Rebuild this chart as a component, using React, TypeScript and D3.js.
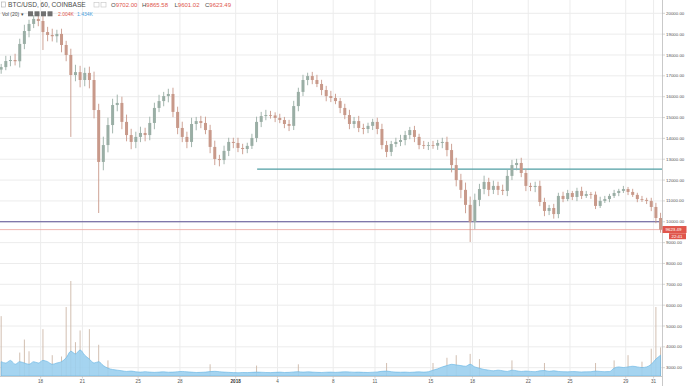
import React from "react";
import * as d3 from "d3";

const WIDTH = 688;
const HEIGHT = 386;
const PLOT_RIGHT = 662;
const PANE_BOTTOM = 376;

// 8 hour candles, the first opens Dec 15 2017 00:00
const firstCandle = new Date(2017, 11, 15, 0, 0);
const candleHours = 8;
const firstOpen = 17300;

const closes = [
  17420, 17710, 17760, 17700, 18530, 19150, 19490, 19730, 19630, 19100,
  18960, 18900, 19010, 18480, 18000, 17040, 17180, 16800, 17140, 16800,
  15360, 12870, 13680, 14640, 15600, 15700, 14790, 14160, 13830, 14070,
  14260, 14160, 14740, 15460, 15790, 16030, 16130, 15270, 14500, 14070,
  13830, 14690, 14830, 14740, 14400, 13590, 13010, 12960, 13400, 13830,
  13780, 13540, 13490, 13640, 14020, 14790, 15070, 15120, 15100, 14980,
  14880, 14690, 14600, 15550, 16230, 16800, 16990, 16800, 16610, 16320,
  16030, 15940, 15790, 15460, 15120, 14690, 14830, 14500, 14450, 14600,
  14790, 14450, 13680, 13350, 13730, 13830, 13920, 14160, 14400, 14070,
  13680, 13640, 13680, 13650, 13780, 13830, 13440, 12720, 12000, 11530,
  10810, 9990, 11050, 11570, 11910, 11530, 11720, 11530, 11480, 12200,
  12720, 12820, 12340, 11720, 11670, 11720, 10950, 10520, 10660, 10370,
  11240, 11090, 11380, 11190, 11480, 11240, 11330, 11300, 10760, 11000,
  11090, 11240, 11380, 11480, 11570, 11430, 11290, 11090, 11050, 11000,
  10710, 10180, 9623.49,
];

// how far the hourly highs / lows reach past each 8h body (USD)
const wickUp = [
  150, 250, 200, 300, 250, 300, 200, 150, 250, 300,
  250, 300, 200, 250, 200, 300, 350, 300, 250, 300,
  400, 300, 400, 350, 300, 400, 300, 350, 300, 250,
  300, 250, 300, 250, 300, 200, 250, 300, 250, 300,
  250, 300, 200, 250, 300, 250, 300, 200, 250, 200,
  200, 250, 200, 150, 200, 250, 200, 250, 200, 150,
  200, 150, 200, 250, 200, 250, 150, 200, 250, 200,
  200, 250, 200, 150, 200, 250, 200, 250, 200, 150,
  150, 200, 250, 200, 150, 200, 250, 200, 150, 200,
  150, 200, 150, 200, 150, 200, 250, 300, 350, 300,
  350, 400, 300, 250, 300, 200, 250, 200, 250, 300,
  250, 200, 250, 200, 150, 200, 250, 200, 150, 200,
  150, 200, 150, 100, 150, 200, 150, 100, 150, 200,
  150, 100, 150, 100, 150, 100, 150, 100, 150, 100,
  150, 200, 250,
];
const wickDown = [
  200, 150, 250, 200, 300, 250, 300, 200, 250, 300,
  300, 250, 300, 350, 300, 400, 300, 350, 300, 400,
  400, 300, 400, 350, 400, 300, 350, 300, 350, 300,
  250, 300, 250, 300, 200, 250, 300, 250, 300, 250,
  300, 250, 300, 250, 200, 300, 250, 300, 200, 250,
  250, 200, 250, 200, 150, 200, 250, 200, 150, 200,
  150, 200, 250, 200, 250, 200, 250, 200, 150, 250,
  250, 200, 150, 250, 200, 250, 200, 200, 250, 200,
  200, 250, 200, 250, 200, 150, 200, 250, 200, 250,
  200, 150, 200, 150, 200, 250, 300, 350, 300, 400,
  400, 300, 350, 300, 250, 300, 200, 250, 200, 250,
  200, 250, 200, 250, 200, 250, 200, 250, 200, 150,
  200, 150, 100, 150, 200, 150, 100, 200, 150, 100,
  100, 150, 100, 150, 100, 150, 100, 150, 100, 150,
  200, 250, 150,
];

// long wicks that stick out further [candle index, price]
const wickHighs: [number, number][] = [
  [7, 19920], [24, 15850], [66, 17150], [111, 13000],
];
const wickLows: [number, number][] = [
  [9, 18240], [15, 14070], [21, 10420], [46, 12720], [83, 13100],
  [101, 9030], [119, 10150], [142, 9560],
];

// volume (thousands BTC), blue body of the volume pane
const volumes = [
  1.1, 1.0, 1.2, 0.9, 1.1, 1.0, 0.9, 1.1, 1.0, 1.2,
  1.1, 0.9, 1.0, 1.1, 1.4, 1.9, 1.7, 2.0, 1.6, 1.3,
  1.0, 1.1, 0.8, 0.6, 0.5, 0.45, 0.4, 0.35, 0.38, 0.32,
  0.3, 0.33, 0.3, 0.28, 0.3, 0.32, 0.29, 0.3, 0.33, 0.35,
  0.32, 0.3, 0.27, 0.28, 0.3, 0.34, 0.36, 0.33, 0.3, 0.28,
  0.26, 0.25, 0.27, 0.26, 0.28, 0.3, 0.29, 0.27, 0.26, 0.28,
  0.3, 0.27, 0.28, 0.31, 0.33, 0.3, 0.32, 0.3, 0.28, 0.27,
  0.29, 0.3, 0.28, 0.3, 0.32, 0.31, 0.29, 0.3, 0.28, 0.27,
  0.29, 0.31, 0.36, 0.38, 0.33, 0.3, 0.29, 0.3, 0.28, 0.3,
  0.32, 0.3, 0.33, 0.45, 0.55, 0.7, 0.8, 0.9, 0.85, 0.8,
  0.75, 0.9, 0.7, 0.6, 0.5, 0.45, 0.4, 0.45, 0.4, 0.35,
  0.45, 0.4, 0.35, 0.38, 0.35, 0.33, 0.4, 0.42, 0.36, 0.4,
  0.35, 0.33, 0.32, 0.34, 0.33, 0.31, 0.32, 0.33, 0.38, 0.35,
  0.33, 0.34, 0.6, 0.7, 0.65, 0.7, 0.75, 0.7, 0.65, 0.7,
  0.9, 1.3, 1.6,
];

// single tall hourly volume bars [candle index, thousands]
const volumeSpikes: [number, number][] = [
  [0, 4.6], [4, 1.8], [5, 2.8], [6, 1.9], [9, 3.6], [11, 1.6], [13, 1.5],
  [14, 5.3], [15, 7.3], [16, 2.6], [17, 3.5], [19, 3.6], [21, 2.4], [23, 1.2],
  [45, 0.9], [55, 0.8], [64, 0.9], [83, 1.0], [93, 1.0], [96, 1.4], [98, 1.6],
  [101, 1.7], [103, 1.3], [110, 1.2], [117, 1.0], [128, 1.0], [132, 1.2],
  [135, 1.6], [138, 1.1], [140, 2.1], [141, 5.3], [142, 2.2],
];

const priceTicks = [
  3000, 4000, 5000, 6000, 7000, 8000, 9000, 10000, 11000, 12000,
  13000, 14000, 15000, 16000, 17000, 18000, 19000, 20000,
];
const dateTicks = [
  new Date(2017, 11, 18), new Date(2017, 11, 21), new Date(2017, 11, 25),
  new Date(2017, 11, 28), new Date(2018, 0, 1), new Date(2018, 0, 4),
  new Date(2018, 0, 8), new Date(2018, 0, 11), new Date(2018, 0, 15),
  new Date(2018, 0, 18), new Date(2018, 0, 22), new Date(2018, 0, 25),
  new Date(2018, 0, 29), new Date(2018, 0, 31),
];
const dateLabels = ["18", "21", "25", "28", "2018", "4", "8", "11", "15", "18", "22", "25", "29", "31"];

const supportLevel = 10000;
const resistanceLevel = 12530;
const resistanceFrom = new Date(2018, 0, 2, 13, 0);

const RED = "#e0564c";
const FONT = "'Liberation Sans', Arial, sans-serif";

const candleTime = (i: number) =>
  new Date(firstCandle.getTime() + (i * candleHours + candleHours / 2) * 3600e3);

export default function App() {
  const x = d3
    .scaleTime()
    .domain([new Date(2017, 11, 15, 2, 0), new Date(2018, 0, 31, 14, 30)])
    .range([0, PLOT_RIGHT]);
  const y = d3.scaleLinear().domain([3000, 20000]).range([367.7, 13.3]);
  const yVol = d3.scaleLinear().domain([0, 7.3]).range([PANE_BOTTOM, 281]);

  const highs = new Map(wickHighs);
  const lows = new Map(wickLows);
  const candles = closes.map((c, i) => {
    const o = i === 0 ? firstOpen : closes[i - 1];
    return {
      cx: x(candleTime(i)),
      o,
      c,
      hi: Math.max(Math.max(o, c) + wickUp[i], highs.get(i) ?? 0),
      lo: Math.min(Math.min(o, c) - wickDown[i], lows.get(i) ?? Infinity),
    };
  });
  const bodyW = 3;

  const volArea = d3
    .area<number>()
    .x((_, i) => x(candleTime(i)))
    .y0(PANE_BOTTOM)
    .y1((v) => yVol(v))
    .curve(d3.curveMonotoneX);

  const lastClose = closes[closes.length - 1];
  const yLast = y(lastClose);

  return (
    <svg
      width={WIDTH}
      height={HEIGHT}
      style={{ position: "absolute", left: 0, top: 0, background: "#fff" }}
      fontFamily={FONT}
    >
      {/* grid */}
      <g stroke="#ececec" strokeWidth={1}>
        {priceTicks.map((p) => (
          <line key={p} x1={0} x2={PLOT_RIGHT} y1={y(p)} y2={y(p)} />
        ))}
        {dateTicks.map((d, i) => (
          <line key={i} x1={x(d)} x2={x(d)} y1={0} y2={PANE_BOTTOM} />
        ))}
      </g>

      {/* volume */}
      <g stroke="#cdb8a8" strokeWidth={0.9}>
        {volumeSpikes.map(([i, v]) => (
          <line key={i} x1={x(candleTime(i))} x2={x(candleTime(i))} y1={PANE_BOTTOM} y2={yVol(v)} />
        ))}
      </g>
      <path d={volArea(volumes) ?? ""} fill="#9bcfee" fillOpacity={0.9} stroke="#62b2e2" strokeWidth={0.6} />

      {/* horizontal levels */}
      <line x1={x(resistanceFrom)} x2={PLOT_RIGHT} y1={y(resistanceLevel)} y2={y(resistanceLevel)} stroke="#4f9ea3" strokeWidth={1.2} />
      <line x1={0} x2={PLOT_RIGHT} y1={y(supportLevel)} y2={y(supportLevel)} stroke="#5a4f92" strokeWidth={1.2} />
      <line x1={0} x2={PLOT_RIGHT} y1={yLast} y2={yLast} stroke="#eaa39c" strokeWidth={0.8} />

      {/* candles */}
      {candles.map((k, i) => {
        const col = k.c >= k.o ? "#9aaea5" : "#c8998a";
        const top = y(Math.max(k.o, k.c));
        const h = Math.max(0.8, y(Math.min(k.o, k.c)) - top);
        return (
          <g key={i}>
            <line x1={k.cx} x2={k.cx} y1={y(k.hi)} y2={y(k.lo)} stroke={col} strokeWidth={0.9} />
            <rect x={k.cx - bodyW / 2} y={top} width={bodyW} height={h} fill={col} />
          </g>
        );
      })}

      {/* right price axis */}
      <line x1={PLOT_RIGHT + 0.5} x2={PLOT_RIGHT + 0.5} y1={0} y2={HEIGHT} stroke="#c9c9c9" strokeWidth={1} />
      {priceTicks.map((p) => (
        <g key={p}>
          <line x1={PLOT_RIGHT} x2={PLOT_RIGHT + 3} y1={y(p)} y2={y(p)} stroke="#bbb" strokeWidth={0.6} />
          <text x={666} y={y(p)} dy="0.35em" fontSize={4.4} fill="#555">
            {p.toFixed(2)}
          </text>
        </g>
      ))}
      <rect x={662.5} y={yLast - 3.6} width={24} height={7} fill={RED} />
      <text x={665.5} y={yLast} dy="0.35em" fontSize={4.4} fill="#fff">
        {lastClose.toFixed(2)}
      </text>
      <rect x={669} y={yLast + 3.6} width={17} height={6} fill={RED} />
      <text x={671.5} y={yLast + 6.6} dy="0.35em" fontSize={4.4} fill="#fff">
        22:41
      </text>

      {/* time axis */}
      <line x1={0} x2={PLOT_RIGHT} y1={PANE_BOTTOM + 0.5} y2={PANE_BOTTOM + 0.5} stroke="#c9c9c9" strokeWidth={1} />
      {dateTicks.map((d, i) => (
        <g key={i}>
          <line x1={x(d)} x2={x(d)} y1={PANE_BOTTOM} y2={PANE_BOTTOM + 2.5} stroke="#bbb" strokeWidth={0.6} />
          <text
            x={x(d)}
            y={383}
            textAnchor="middle"
            fontSize={4.6}
            fill={dateLabels[i] === "2018" ? "#333" : "#555"}
            fontWeight={dateLabels[i] === "2018" ? "bold" : "normal"}
          >
            {dateLabels[i]}
          </text>
        </g>
      ))}

      {/* legend header */}
      <rect x={1.5} y={2} width={4} height={5} fill="none" stroke="#aaa" strokeWidth={0.6} />
      <text x={8} y={7.3} fontSize={6.6} fill="#4a4a4a">
        BTC/USD, 60, COINBASE
      </text>
      <rect x={94} y={2.5} width={5} height={4.5} fill="none" stroke="#c4c4c4" strokeWidth={0.6} />
      <rect x={101} y={2.5} width={5} height={4.5} fill="none" stroke="#c4c4c4" strokeWidth={0.6} />
      {[
        ["O", "9702.00", 111],
        ["H", "9865.58", 142],
        ["L", "9601.02", 174.5],
        ["C", "9623.49", 205],
      ].map(([k, v, px]) => (
        <text key={k as string} x={px as number} y={7.3} fontSize={6}>
          <tspan fill="#4a4a4a">{k}</tspan>
          <tspan fill={RED}>{v}</tspan>
        </text>
      ))}
      <text x={2} y={15.8} fontSize={5} fill="#4a4a4a">
        Vol (20) ▾
      </text>
      {[28, 34.5, 41, 47.5].map((px) => (
        <rect key={px} x={px} y={11.3} width={5} height={5} fill="#707070" />
      ))}
      <text x={58} y={15.8} fontSize={5} fill={RED}>
        2.004K
      </text>
      <text x={77} y={15.8} fontSize={5} fill="#4aa0dc">
        1.434K
      </text>
    </svg>
  );
}
